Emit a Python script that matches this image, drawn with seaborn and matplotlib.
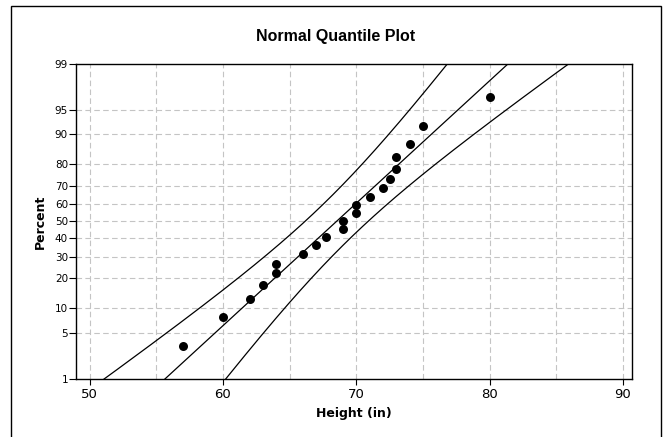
import math
import numpy as np
import pandas as pd
import matplotlib
matplotlib.use('Agg')
import matplotlib.pyplot as plt
import seaborn as sns
from matplotlib.patches import Rectangle

# heights (in)
heights = [57, 60, 62, 63, 64, 64, 66, 67, 67.7, 69, 69,
           70, 70, 71, 72, 72.5, 73, 73, 74, 75, 80]
# plotted percents
percents = [3.3, 7.9, 12.6, 17.3, 22.0, 26.6, 31.3, 36.0, 40.7, 45.3, 50.0,
            54.7, 59.3, 64.0, 68.7, 73.4, 78.0, 82.7, 87.4, 92.1, 96.7]
y_ticks = [1, 5, 10, 20, 30, 40, 50, 60, 70, 80, 90, 95, 99]
x_ticks = [50, 60, 70, 80, 90]


def norm_ppf(p):
    # Acklam's rational approximation of the inverse normal cdf
    p = np.clip(np.asarray(p, dtype=float), 1e-12, 1 - 1e-12)
    a = [-3.969683028665376e+01, 2.209460984245205e+02, -2.759285104469687e+02,
         1.383577518672690e+02, -3.066479806614716e+01, 2.506628277459239e+00]
    b = [-5.447609879822406e+01, 1.615858368580409e+02, -1.556989798598866e+02,
         6.680131188771972e+01, -1.328068155288572e+01]
    c = [-7.784894002430293e-03, -3.223964580411365e-01, -2.400758277161838e+00,
         -2.549732539343734e+00, 4.374664141464968e+00, 2.938163982698783e+00]
    d = [7.784695709041462e-03, 3.224671290700398e-01, 2.445134137142996e+00,
         3.754408661907416e+00]
    out = np.empty_like(p)
    lo = p < 0.02425
    hi = p > 1 - 0.02425
    mid = ~(lo | hi)
    q = np.sqrt(-2 * np.log(p[lo]))
    out[lo] = (((((c[0]*q+c[1])*q+c[2])*q+c[3])*q+c[4])*q+c[5]) / \
              ((((d[0]*q+d[1])*q+d[2])*q+d[3])*q+1)
    q = np.sqrt(-2 * np.log(1 - p[hi]))
    out[hi] = -(((((c[0]*q+c[1])*q+c[2])*q+c[3])*q+c[4])*q+c[5]) / \
               ((((d[0]*q+d[1])*q+d[2])*q+d[3])*q+1)
    q = p[mid] - 0.5
    r = q * q
    out[mid] = (((((a[0]*r+a[1])*r+a[2])*r+a[3])*r+a[4])*r+a[5])*q / \
               (((((b[0]*r+b[1])*r+b[2])*r+b[3])*r+b[4])*r+1)
    return out


_erf = np.vectorize(math.erf)


def pct_to_z(y):
    return norm_ppf(np.asarray(y, dtype=float) / 100.0)


def z_to_pct(z):
    return 50.0 * (1 + _erf(np.asarray(z, dtype=float) / math.sqrt(2)))


df = pd.DataFrame({'Height': heights, 'Percent': percents})

# normal fit with 95% confidence band on the percentiles
mu = np.mean(heights)
sd = np.std(heights, ddof=1)
n = len(heights)
z = np.linspace(-3.2, 3.2, 400)
se = sd * np.sqrt(1.0 / n + z ** 2 / (2.0 * n))
fit = pd.DataFrame({'x': mu + z * sd, 'y': z_to_pct(z)})
upper = pd.DataFrame({'x': mu + z * sd - 1.96 * se, 'y': z_to_pct(z)})
lower = pd.DataFrame({'x': mu + z * sd + 1.96 * se, 'y': z_to_pct(z)})

sns.set_theme(style='white')
plt.rcParams['font.family'] = ['DejaVu Sans']
plt.rcParams['text.color'] = 'black'

fig = plt.figure(figsize=(6.65, 4.37), dpi=100)
ax = fig.add_axes([76.3 / 665, 1 - 378.7 / 437, (631.7 - 76.3) / 665, (378.7 - 63.7) / 437])
ax.set_yscale('function', functions=(pct_to_z, z_to_pct))

for d in (fit, upper, lower):
    sns.lineplot(data=d, x='x', y='y', sort=False, color='black', lw=0.9, ax=ax)
sns.scatterplot(data=df, x='Height', y='Percent', color='black', s=42,
                edgecolor='black', linewidth=0, ax=ax, zorder=5)

ax.set_xlim(49.0, 90.66)
ax.set_ylim(1, 99)
ax.set_xticks(x_ticks)
ax.set_xticks(np.arange(55, 90, 10), minor=True)
ax.set_yticks(y_ticks)
ax.set_yticklabels([str(t) for t in y_ticks])
ax.yaxis.set_minor_locator(matplotlib.ticker.NullLocator())

grid_kw = dict(color='#c4c4c4', lw=0.8, ls=(0, (5, 3)))
for gx in np.arange(50, 91, 5):
    ax.axvline(gx, zorder=0, **grid_kw)
for gy in y_ticks[1:-1]:
    ax.axhline(gy, zorder=0, **grid_kw)

for s in ax.spines.values():
    s.set_color('black')
    s.set_linewidth(1.0)

ax.tick_params(axis='x', which='major', bottom=True, length=4, width=0.8,
               color='black', pad=3, labelsize=9.5, labelcolor='black')
ax.tick_params(axis='x', which='minor', bottom=False)
ax.tick_params(axis='y', left=True, length=5, width=0.8, color='black',
               pad=1, labelsize=7.5, labelcolor='black')

ax.set_xlabel('')
ax.set_ylabel('')
fig.text(354 / 665, 1 - 413 / 437, 'Height (in)', ha='center', va='center',
         fontsize=9, fontweight='bold', color='black')
fig.text(40 / 665, 1 - 222 / 437, 'Percent', ha='center', va='center',
         rotation=90, fontsize=9, fontweight='bold', color='black')
fig.text(335.7 / 665, 1 - 36 / 437, 'Normal Quantile Plot', ha='center',
         va='center', fontsize=11.5, fontweight='bold', color='black',
         family=['Liberation Sans'])

# outer frame
fig.add_artist(Rectangle((11 / 665, -0.05), 650 / 665, 1.05 - 5.7 / 437,
                         transform=fig.transFigure, fill=False,
                         edgecolor='black', lw=1.0))

fig.savefig('out.png', dpi=100)
